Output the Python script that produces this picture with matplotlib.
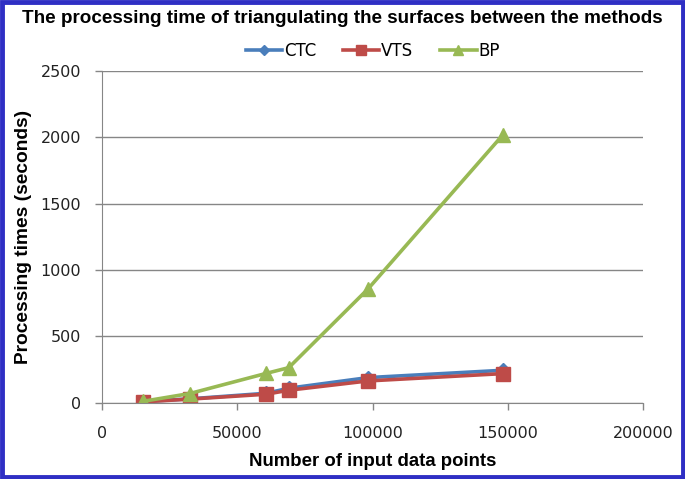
import matplotlib.pyplot as plt
from matplotlib.patches import Rectangle

# data
points = [15300, 32400, 60700, 69000, 98300, 148000]
ctc_times = [10, 30, 72, 110, 190, 245]
vts_times = [8, 28, 65, 95, 165, 220]
bp_times = [12, 70, 222, 265, 858, 2015]

fig = plt.figure(figsize=(6.85, 4.79), dpi=100)
ax = fig.add_axes([0.149, 0.159, 0.790, 0.693])

ax.plot(points, ctc_times, color="#4a7ebb", lw=2.6, marker="D", markersize=7, label="CTC")
ax.plot(points, vts_times, color="#be4b48", lw=2.6, marker="s", markersize=10, label="VTS")
ax.plot(points, bp_times, color="#98b954", lw=2.6, marker="^", markersize=10, label="BP")

ax.set_xlim(0, 200000)
ax.set_ylim(0, 2500)
ax.set_xticks(range(0, 200001, 50000))
ax.set_yticks(range(0, 2501, 500))
ax.yaxis.grid(True, color="#868686", lw=1)
ax.set_axisbelow(True)
for side in ["top", "right"]:
    ax.spines[side].set_visible(False)
for side in ["left", "bottom"]:
    ax.spines[side].set_color("#868686")
ax.tick_params(colors="#868686", labelcolor="#222222", labelsize=11.5, length=5, width=1)
ax.tick_params(axis="x", pad=12)
ax.tick_params(axis="y", pad=10)

ax.set_xlabel("Number of input data points", fontsize=13.4, fontweight="bold",
              family="Liberation Sans", labelpad=8)
ax.set_ylabel("Processing times (seconds)", fontsize=13.8, fontweight="bold",
              family="Liberation Sans", labelpad=6)
fig.text(0.5, 0.962, "The processing time of triangulating the surfaces between the methods",
         ha="center", va="center", fontsize=13.6, fontweight="bold", family="Liberation Sans")

ax.legend(loc="center", bbox_to_anchor=(0.5, 1.06), ncol=3, frameon=False, fontsize=12,
          handlelength=2.2, columnspacing=1.6, handletextpad=0.1, markerscale=0.7)

fig.patches.append(Rectangle((0.003, 0.004), 0.994, 0.992, transform=fig.transFigure,
                             fill=False, edgecolor="#2f2fc4", lw=3.5))

fig.savefig("out.png", dpi=100)
